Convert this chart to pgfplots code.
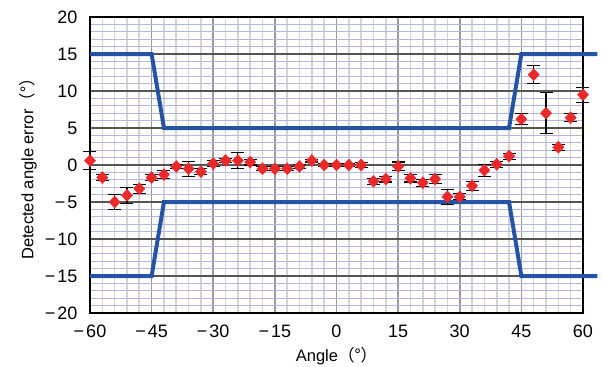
\documentclass[border=0pt]{standalone}
\usepackage{fontspec}
\setmainfont{Liberation Sans}
\newfontfamily\cjk{Noto Sans CJK JP}
\usepackage{pgfplots}
\pgfplotsset{compat=1.18}
\definecolor{minx}{HTML}{D4D4D4}
\definecolor{majx}{HTML}{9A9A9A}
\definecolor{miny}{HTML}{B3B8E2}
\definecolor{majy}{HTML}{555555}
\definecolor{limblue}{HTML}{2553A5}
\definecolor{ptred}{HTML}{EA2A2A}
\newcommand{\mn}{−\kern2pt}
\pgfplotstableread{
x y e
-60 0.6 1.2
-57 -1.7 0.4
-54 -5.0 1.0
-51 -4.1 1.1
-48 -3.2 0.6
-45 -1.7 0.4
-42 -1.3 0.5
-39 -0.2 0.3
-36 -0.5 1.0
-33 -0.9 0.4
-30 0.2 0.4
-27 0.6 0.3
-24 0.6 1.1
-21 0.4 0.4
-18 -0.5 0.3
-15 -0.5 0.3
-12 -0.5 0.3
-9 -0.2 0.3
-6 0.6 0.2
-3 0.0 0.2
0 0.0 0.2
3 0.0 0.2
6 0.0 0.3
9 -2.2 0.4
12 -1.9 0.4
15 -0.2 0.6
18 -1.8 0.5
21 -2.4 0.5
24 -1.9 0.6
27 -4.3 1.0
30 -4.3 0.4
33 -2.8 0.6
36 -0.7 0.8
39 0.1 0.4
42 1.2 0.4
45 6.2 0.7
48 12.2 1.2
51 7.0 2.8
54 2.4 0.4
57 6.4 0.5
60 9.5 1.0
}\datatable
\begin{document}
\begin{tikzpicture}
\path[use as bounding box] (-90pt,-54pt) rectangle (513pt,313pt);
\begin{axis}[
  at={(0pt,0pt)}, anchor=south west,
  width=493pt, height=296pt, scale only axis,
  xmin=-60, xmax=60, ymin=-20, ymax=20,
  xtick={-60,-45,...,60}, ytick={-20,-15,...,20},
  xticklabels={\mn60,\mn45,\mn30,\mn15,0,15,30,45,60},
  yticklabels={\mn20,\mn15,\mn10,\mn5,0,5,10,15,20},
  minor xtick={-57,-54,...,57},
  minor ytick={-19,-18,...,19},
  grid=both,
  minor x grid style={minx, line width=1.6pt},
  major x grid style={majx, line width=1.6pt},
  minor y grid style={miny, line width=1.3pt},
  major y grid style={majy, line width=1.3pt},
  major tick length=0pt, minor tick length=0pt,
  axis line style={black, line width=1.4pt},
  clip=false,
  ticklabel style={font=\fontsize{18}{20}\selectfont},
  label style={font=\fontsize{16.5}{19}\selectfont},
  xticklabel style={anchor=center, yshift=-18pt},
  yticklabel style={anchor=east, xshift=-9pt},
  xlabel={Angle\cjk{（°）}},
  ylabel={Detected angle error\cjk{（°）}},
  xlabel style={at={(rel axis cs:0.5,0)}, anchor=center, yshift=-43pt},
  ylabel style={at={(rel axis cs:0,0.5)}, anchor=center, yshift=62pt},
]
\addplot[limblue, line width=4pt, line join=miter] coordinates {(-60,15) (-45,15) (-42,5) (42,5) (45,15) (63.5,15)};
\addplot[limblue, line width=4pt, line join=miter] coordinates {(-60,-15) (-45,-15) (-42,-5) (42,-5) (45,-15) (63.5,-15)};
\addplot[only marks, mark=diamond*, mark size=6pt, color=ptred,
  mark options={xscale=1.25},
  error bars/.cd, y dir=both, y explicit,
  error bar style={black, line width=1.1pt},
  error mark options={rotate=90, black, mark size=6.5pt, line width=1.1pt}]
  table[x=x, y=y, y error=e] {\datatable};
\end{axis}
\end{tikzpicture}
\end{document}
